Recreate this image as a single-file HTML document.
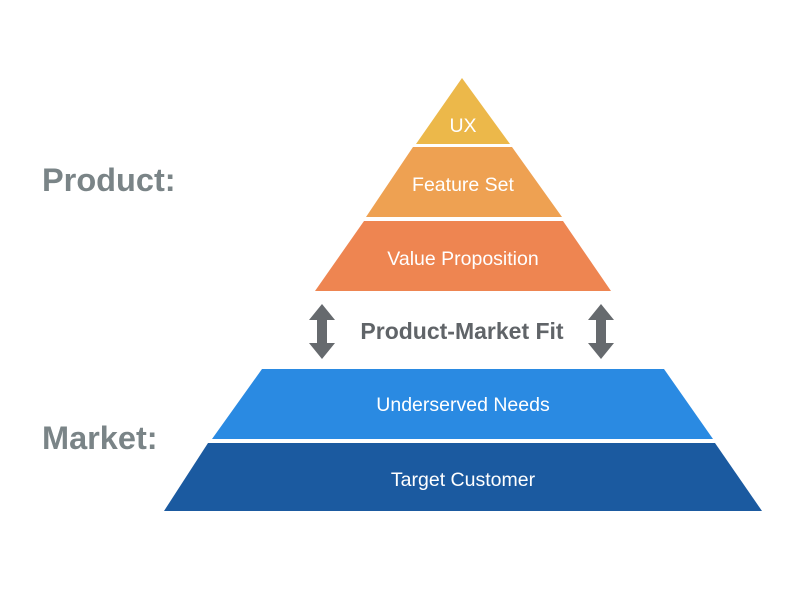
<!DOCTYPE html>
<html><head><style>
html,body{margin:0;padding:0;background:#fff;width:800px;height:600px;overflow:hidden}
</style></head><body>
<svg width="800" height="600" viewBox="0 0 800 600" xmlns="http://www.w3.org/2000/svg" font-family="Liberation Sans, Arial, sans-serif">
<polygon points="462,78 510,144 416,144" fill="#ecb84a"/>
<polygon points="413,147 512,147 562,217 366,217" fill="#eea152"/>
<polygon points="364,221 563,221 611,291 315,291" fill="#ee8551"/>
<polygon points="262,369 664,369 713,439 212,439" fill="#2a8ae2"/>
<polygon points="208,443 715,443 762,511 164,511" fill="#1b5aa0"/>
<g fill="#fff" font-size="19.5" text-anchor="middle">
<text x="463" y="132">UX</text>
<text x="463" y="191">Feature Set</text>
<text x="463" y="265">Value Proposition</text>
<text x="463" y="411">Underserved Needs</text>
<text x="463" y="486">Target Customer</text>
</g>
<text x="462" y="339" font-size="23" font-weight="bold" fill="#606468" text-anchor="middle">Product-Market Fit</text>
<g fill="#666a6e">
<polygon points="322,304 335,320 327,320 327,343 335,343 322,359 309,343 317,343 317,320 309,320"/>
<polygon points="601,304 614,320 606,320 606,343 614,343 601,359 588,343 596,343 596,320 588,320"/>
</g>
<g fill="#7a8487" font-size="32.5" font-weight="bold">
<text x="42" y="191">Product:</text>
<text x="42" y="449">Market:</text>
</g>
</svg>
</body></html>
